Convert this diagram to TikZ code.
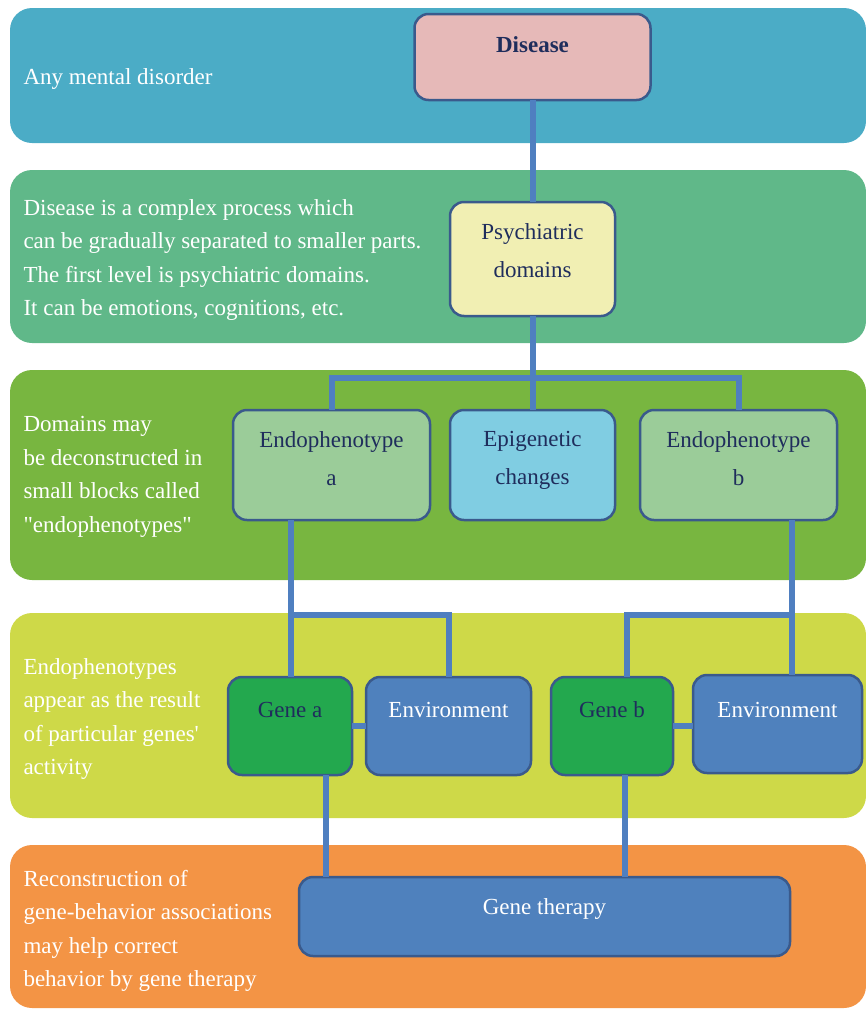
\documentclass[tikz,border=0pt]{standalone}
\usepackage{fontspec}
\setmainfont{Liberation Serif}
\definecolor{bandblue}{HTML}{4BACC6}
\definecolor{bandteal}{HTML}{60B889}
\definecolor{bandgreen}{HTML}{78B640}
\definecolor{bandyellow}{HTML}{CED948}
\definecolor{bandorange}{HTML}{F39445}
\definecolor{boxline}{HTML}{3A5A8C}
\definecolor{linkblue}{HTML}{4F7FC0}
\definecolor{navy}{HTML}{1F2D5C}
\definecolor{pinkfill}{HTML}{E6B9B8}
\definecolor{yellowfill}{HTML}{F1EFB3}
\definecolor{greenfill}{HTML}{9BCC99}
\definecolor{cyanfill}{HTML}{80CDE2}
\definecolor{genefill}{HTML}{23A84E}
\definecolor{envfill}{HTML}{4F81BD}
\begin{document}
\begin{tikzpicture}
  [x=1pt,y=-1pt,
   band/.style={rounded corners=22pt},
   box/.style={rectangle,draw=boxline,line width=2.5pt,rounded corners=14pt,
               inner sep=0,outer sep=0},
   boxtext/.style={align=center,text=navy,font=\fontsize{23}{38}\selectfont},
   bandtext/.style={anchor=west,align=left,text=white,
                    font=\fontsize{23}{33.5}\selectfont},
   link/.style={draw=linkblue,line width=6pt}]
  \useasboundingbox (0,0) rectangle (866,1010);
  % bands
  \fill[band,bandblue] (10,8) rectangle (866,143);
  \fill[band,bandteal] (10,170) rectangle (866,343);
  \fill[band,bandgreen] (10,370) rectangle (866,580);
  \fill[band,bandyellow] (10,613) rectangle (866,818);
  \fill[band,bandorange] (10,845) rectangle (866,1008);
  \node[bandtext] (t1) at (20,79) {Any mental disorder};
  \node[bandtext] (t2) at (20,260) {Disease is a complex process which\\
    can be gradually separated to smaller parts.\\
    The first level is psychiatric domains.\\
    It can be emotions, cognitions, etc.};
  \node[bandtext] (t3) at (20,477) {Domains may\\ be deconstructed in\\
    small blocks called\\ \textquotedbl endophenotypes\textquotedbl};
  \node[bandtext] (t4) at (20,719) {Endophenotypes\\ appear as the result\\
    of particular genes\textquotesingle\\ activity};
  \node[bandtext] (t5) at (20,931) {Reconstruction of\\
    gene-behavior associations\\ may help correct\\ behavior by gene therapy};
  % boxes
  \node[box,fill=pinkfill,minimum width=236,minimum height=86] (disease) at (532.5,57) {};
  \node[box,fill=yellowfill,minimum width=165,minimum height=114] (psych) at (532.5,259) {};
  \node[box,fill=greenfill,minimum width=197,minimum height=110] (endoA) at (331.5,465) {};
  \node[box,fill=cyanfill,minimum width=165,minimum height=110] (epi) at (532.5,465) {};
  \node[box,fill=greenfill,minimum width=197,minimum height=110] (endoB) at (738.5,465) {};
  \node[box,fill=genefill,minimum width=124,minimum height=98] (geneA) at (290,726) {};
  \node[box,fill=envfill,minimum width=165,minimum height=98] (envA) at (448.5,726) {};
  \node[box,fill=genefill,minimum width=122,minimum height=98] (geneB) at (612,726) {};
  \node[box,fill=envfill,minimum width=169,minimum height=98] (envB) at (777.5,724) {};
  \node[box,fill=envfill,minimum width=491,minimum height=79] (therapy) at (544.5,916.5) {};
  % box texts
  \node[boxtext] (diseaseT) at ([yshift=-31]disease.north) {\textbf{Disease}};
  \node[boxtext,anchor=north] (psychT) at ([yshift=-18]psych.north) {Psychiatric\\ domains};
  \node[boxtext,anchor=north] (endoAT) at ([yshift=-18]endoA.north) {Endophenotype\\ a};
  \node[boxtext,anchor=north] (epiT) at ([yshift=-18]epi.north) {Epigenetic\\ changes};
  \node[boxtext,anchor=north] (endoBT) at ([yshift=-18]endoB.north) {Endophenotype\\ b};
  \node[boxtext] (geneAT) at ([yshift=-33]geneA.north) {Gene a};
  \node[boxtext,text=white] (envAT) at ([yshift=-33]envA.north) {Environment};
  \node[boxtext] (geneBT) at ([yshift=-33]geneB.north) {Gene b};
  \node[boxtext,text=white] (envBT) at ([yshift=-35]envB.north) {Environment};
  \node[boxtext,text=white] (therapyT) at ([yshift=-32]therapy.north) {Gene therapy};
  % links
  \coordinate (j1) at (532.5,378);
  \coordinate (jA) at (291,615);
  \coordinate (jB) at (792,615);
  \coordinate (jB2) at (627,615);
  \coordinate (tA) at (326,0);
  \coordinate (tB) at (625,0);
  \draw[link] (disease.south) -- (psych.north);
  \draw[link] (psych.south) -- (epi.north);
  \draw[link] (endoA.north) |- (j1) -| (endoB.north);
  \draw[link] (endoA.south -| jA) -- (geneA.north -| jA);
  \draw[link] (jA) -| (envA.north);
  \draw[link] (endoB.south -| jB) -- (envB.north -| jB);
  \draw[link] (jB) -- (jB2) -- (geneB.north -| jB2);
  \draw[link] (geneA.east) -- (envA.west);
  \draw[link] (geneB.east) -- (envB.west |- geneB.east);
  \draw[link] (geneA.south -| tA) -- (therapy.north -| tA);
  \draw[link] (geneB.south -| tB) -- (therapy.north -| tB);
\end{tikzpicture}
\end{document}
